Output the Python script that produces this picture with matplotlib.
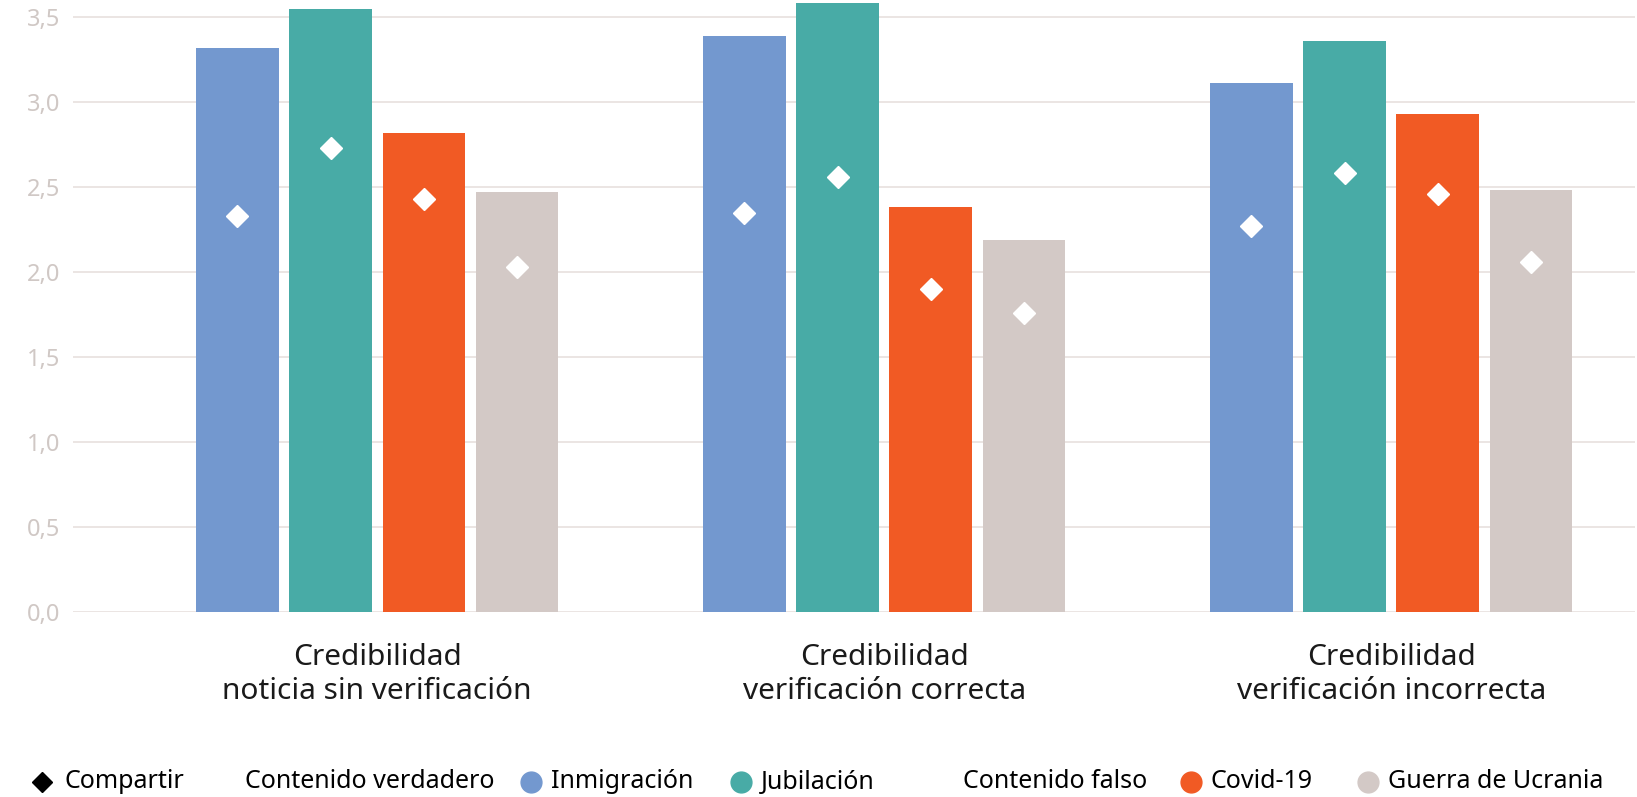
import numpy as np
import matplotlib
matplotlib.use("Agg")
import matplotlib.pyplot as plt
from matplotlib.lines import Line2D

# Values
GROUPS = ["Credibilidad\nnoticia sin verificación",
          "Credibilidad\nverificación correcta",
          "Credibilidad\nverificación incorrecta"]
TOPICS = ["Inmigración", "Jubilación", "Covid-19", "Guerra de Ucrania"]
CREDIBILITY = {
    "Inmigración":       [3.32, 3.39, 3.11],
    "Jubilación":        [3.55, 3.58, 3.36],
    "Covid-19":          [2.82, 2.38, 2.93],
    "Guerra de Ucrania": [2.47, 2.19, 2.48],
}
SHARING = {
    "Inmigración":       [2.33, 2.35, 2.27],
    "Jubilación":        [2.73, 2.56, 2.58],
    "Covid-19":          [2.43, 1.90, 2.46],
    "Guerra de Ucrania": [2.03, 1.76, 2.06],
}
Y_TICKS = [0.0, 0.5, 1.0, 1.5, 2.0, 2.5, 3.0, 3.5]

COLORS = {
    "Inmigración": "#7398cf",
    "Jubilación": "#48aba6",
    "Covid-19": "#f15a24",
    "Guerra de Ucrania": "#d3c9c6",
}
GRID = "#ebe5e3"
TICK = "#d0c8c5"
FONT = ["Noto Sans", "DejaVu Sans"]

plt.rcParams["font.family"] = FONT

W, H = 1637, 797
fig = plt.figure(figsize=(W / 100, H / 100), dpi=100)
ax = fig.add_axes([73 / W, 1 - 612 / H, (1635 - 73) / W, 612 / H])

x = np.arange(len(GROUPS))
step, width = 0.184, 0.163
offsets = (np.arange(len(TOPICS)) - 1.5) * step
for off, topic in zip(offsets, TOPICS):
    ax.bar(x + off, CREDIBILITY[topic], width=width, color=COLORS[topic], zorder=2)
    ax.plot(x + off, SHARING[topic], "D", color="white", ms=11, mec="white",
            zorder=3, ls="none")

ax.set_xlim(-0.600, 2.481)
ax.set_ylim(0, 3.6)
ax.set_yticks(Y_TICKS)
ax.set_yticklabels([f"{v:.1f}".replace(".", ",") for v in Y_TICKS], color=TICK,
                   fontsize=17, fontweight="medium")
ax.grid(axis="y", color=GRID, lw=1.4, zorder=0)
ax.tick_params(axis="y", length=0, pad=9)
ax.set_xticks(x)
ax.set_xticklabels(GROUPS, fontsize=21.5, color="#1a1a1a", linespacing=1.25)
ax.tick_params(axis="x", length=0, pad=22)
for s in ax.spines.values():
    s.set_visible(False)

# Legend row along the bottom
ly = 1 - 782 / H
fs = 18
fig.add_artist(Line2D([42 / W], [ly], marker="D", color="black", ms=10, ls="none",
                      transform=fig.transFigure))
fig.text(65 / W, ly, "Compartir", fontsize=fs, va="center", ha="left")
fig.text(245 / W, ly, "Contenido verdadero", fontsize=fs, va="center", ha="left")
fig.text(963 / W, ly, "Contenido falso", fontsize=fs, va="center", ha="left")
for topic, mx in zip(TOPICS, [531, 741, 1191, 1368]):
    fig.add_artist(Line2D([mx / W], [ly], marker="o", color=COLORS[topic], ms=15,
                          ls="none", transform=fig.transFigure))
    fig.text((mx + 20) / W, ly, topic, fontsize=fs, va="center", ha="left")

fig.savefig("out.png", dpi=100, facecolor="white")
